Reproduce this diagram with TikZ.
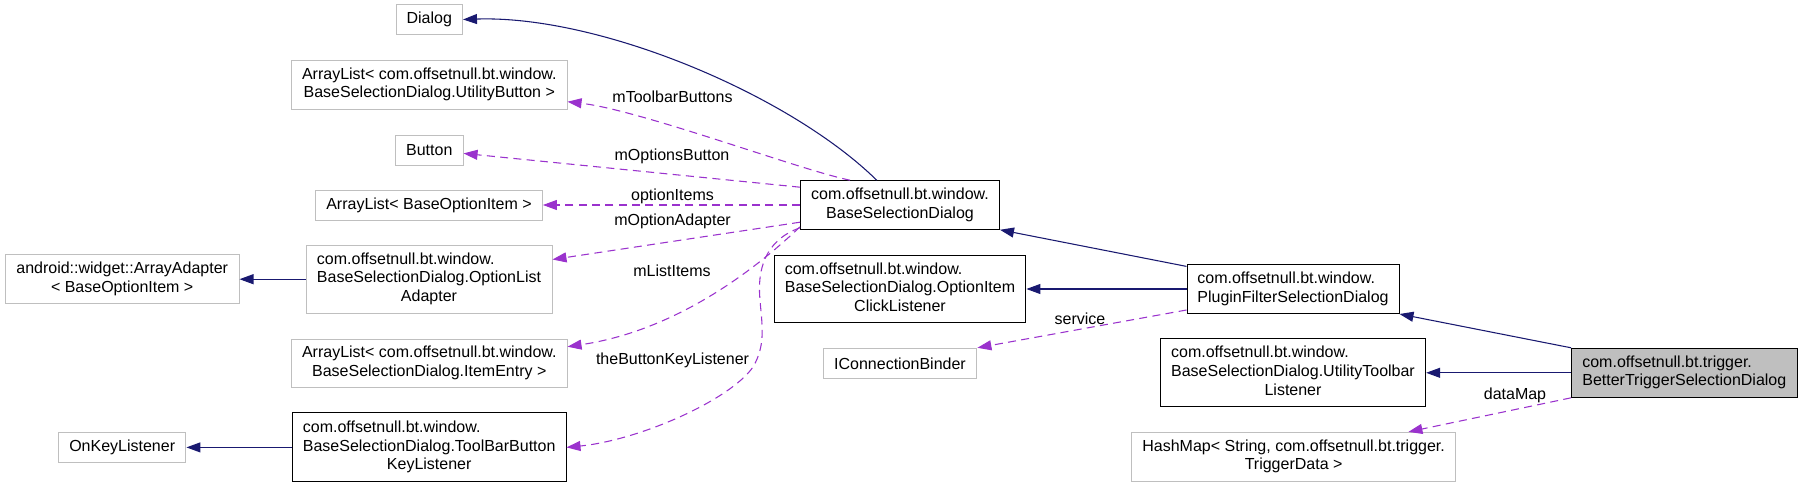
\documentclass[tikz,border=0pt]{standalone}
\usepackage{fontspec}
\setmainfont{Liberation Sans}
\usetikzlibrary{arrows.meta,calc}

\definecolor{edgeblue}{HTML}{191970}
\definecolor{edgepurple}{HTML}{9A32CD}
\definecolor{boxgrey}{HTML}{BFBFBF}
\newdimen\pxu \pxu=0.75pt
\newcommand\boxtext[2]{\begin{tabular}{@{}l@{}}#1\\\multicolumn{1}{@{}c@{}}{#2}\end{tabular}}

\begin{document}
\begin{tikzpicture}[x=0.75pt,y=-0.75pt,
	every node/.style={font=\fontsize{12}{14}\selectfont},
	grey_node/.style={draw=boxgrey,line width=0.75pt,inner sep=0pt},
	black_node/.style={draw=black,line width=0.75pt,inner sep=0pt},
	main_node/.style={black_node,fill=boxgrey},
	inherit/.style={draw=edgeblue,line width=0.8pt,-{Triangle[length=10.5pt,width=7.5pt]}},
	uses/.style={draw=edgepurple,line width=0.8pt,dash pattern=on 6pt off 4pt,-{Triangle[length=10.5pt,width=7.5pt]}},
	edge_label/.style={inner sep=0pt}]

		\useasboundingbox (0,0) rectangle (1803,489);

		\node[grey_node,minimum width=66.5\pxu,minimum height=29.6\pxu] (Dialog) at (429.3,19.5) {Dialog};
		\node[grey_node,minimum width=275.5\pxu,minimum height=48.7\pxu] (UtilButtons) at (429.3,84.7) {\boxtext{ArrayList< com.offsetnull.bt.window.}{BaseSelectionDialog.UtilityButton >}};
		\node[grey_node,minimum width=67.5\pxu,minimum height=29.3\pxu] (Button) at (429.3,150.4) {Button};
		\node[grey_node,minimum width=226.8\pxu,minimum height=30\pxu] (OptItems) at (429,205) {ArrayList< BaseOptionItem >};
		\node[grey_node,minimum width=246\pxu,minimum height=68.3\pxu] (OptAdapter) at (429,279.2) {\boxtext{com.offsetnull.bt.window.\\BaseSelectionDialog.OptionList}{Adapter}};
		\node[grey_node,minimum width=233.6\pxu,minimum height=49.3\pxu] (ArrayAdapter) at (122.2,279.2) {\boxtext{android::widget::ArrayAdapter}{< BaseOptionItem >}};
		\node[grey_node,minimum width=275.5\pxu,minimum height=48.7\pxu] (ItemEntries) at (429.3,363.4) {\boxtext{ArrayList< com.offsetnull.bt.window.}{BaseSelectionDialog.ItemEntry >}};
		\node[black_node,minimum width=273.6\pxu,minimum height=69\pxu] (KeyListener) at (429.2,447.4) {\boxtext{com.offsetnull.bt.window.\\BaseSelectionDialog.ToolBarButton}{KeyListener}};
		\node[grey_node,minimum width=127.5\pxu,minimum height=30\pxu] (OnKey) at (122.2,447.4) {OnKeyListener};
		\node[black_node,minimum width=199\pxu,minimum height=48.6\pxu] (BaseDialog) at (900,205) {\boxtext{com.offsetnull.bt.window.}{BaseSelectionDialog}};
		\node[black_node,minimum width=251.8\pxu,minimum height=67.7\pxu] (ClickListener) at (900,289) {\boxtext{com.offsetnull.bt.window.\\BaseSelectionDialog.OptionItem}{ClickListener}};
		\node[grey_node,minimum width=153.8\pxu,minimum height=30\pxu] (ConnBinder) at (900,363.3) {IConnectionBinder};
		\node[black_node,minimum width=212\pxu,minimum height=49\pxu] (PluginDialog) at (1293,289) {\boxtext{com.offsetnull.bt.window.}{PluginFilterSelectionDialog}};
		\node[black_node,minimum width=265.3\pxu,minimum height=68\pxu] (ToolbarListener) at (1293,372.8) {\boxtext{com.offsetnull.bt.window.\\BaseSelectionDialog.UtilityToolbar}{Listener}};
		\node[grey_node,minimum width=324.3\pxu,minimum height=48.7\pxu] (DataMap) at (1293.6,456.7) {\boxtext{HashMap< String, com.offsetnull.bt.trigger.}{TriggerData >}};
		\node[main_node,minimum width=225.4\pxu,minimum height=49\pxu] (TriggerDialog) at (1684.3,372.8) {\boxtext{com.offsetnull.bt.trigger.}{BetterTriggerSelectionDialog}};

		\node[edge_label] (lblToolbar) at (672.5,96.7) {mToolbarButtons};
		\node[edge_label] (lblOptButton) at (672,156) {mOptionsButton};
		\node[edge_label] (lblOptItems) at (672.5,196.7) {optionItems};
		\node[edge_label] (lblOptAdapter) at (672.5,221) {mOptionAdapter};
		\node[edge_label] (lblListItems) at (672,270.7) {mListItems};
		\node[edge_label] (lblKeyListener) at (672.5,360) {theButtonKeyListener};
		\node[edge_label] (lblService) at (1080,319) {service};
		\node[edge_label] (lblDataMap) at (1515,395) {dataMap};

		\draw[inherit] ($(BaseDialog.north)+(-23.3,0)$) .. controls (790,95) and (600,15) .. (Dialog.east);
		\draw[inherit] ($(PluginDialog.north west)+(0,2.4)$) -- (BaseDialog.south east);
		\draw[inherit] (PluginDialog.west) -- (ClickListener.east);
		\draw[inherit] (TriggerDialog.north west) -- (PluginDialog.south east);
		\draw[inherit] (TriggerDialog.west) -- (ToolbarListener.east);
		\draw[inherit] (OptAdapter.west) -- (ArrayAdapter.east);
		\draw[inherit] (KeyListener.west) -- (OnKey.east);

		\draw[uses] ($(BaseDialog.north)+(-50,0)$) .. controls (800,170) and (640,110) .. ($(UtilButtons.east)+(0,17)$);
		\draw[uses] ($(BaseDialog.north west)+(0,7)$) -- ($(Button.east)+(0,3)$);
		\draw[uses] (BaseDialog.west) -- (OptItems.east);
		\draw[uses] ($(BaseDialog.south west)+(0,-7.6)$) -- ($(OptAdapter.east)+(0,-19.7)$);
		\draw[uses] ($(BaseDialog.south west)+(0,-3)$) .. controls (760,265) and (680,330) .. ($(ItemEntries.east)+(0,-16.7)$);
		\draw[uses] ($(BaseDialog.south west)+(0,-2)$) .. controls (765,240) and (757,270) .. (760,300)
			.. controls (762,325) and (766,345) .. (753,367)
			.. controls (730,400) and (640,440) .. (KeyListener.east);
		\draw[uses] ($(PluginDialog.south west)+(0,-4)$) -- (ConnBinder.north east);
		\draw[uses] (TriggerDialog.south west) -- ($(DataMap.north east)+(-47.8,0)$);
\end{tikzpicture}
\end{document}
